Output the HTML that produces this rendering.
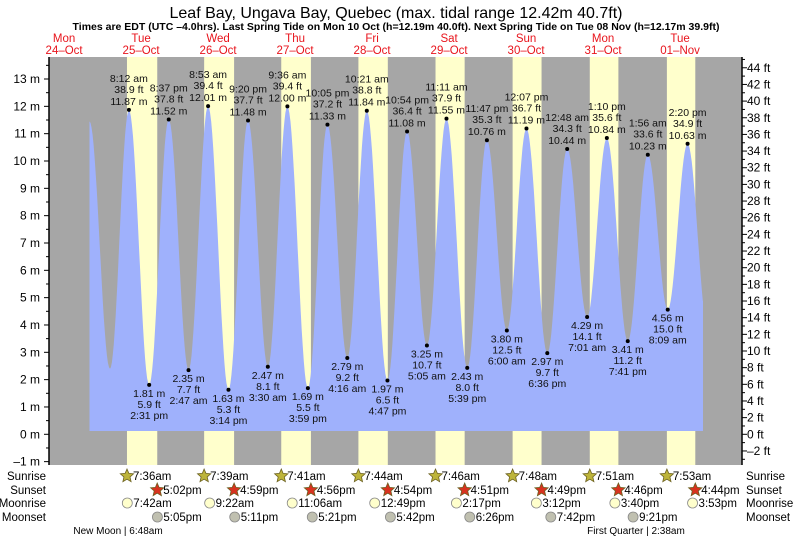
<!DOCTYPE html>
<html><head><meta charset="utf-8"><style>
body{margin:0;background:#fff;}
svg{display:block;font-family:"Liberation Sans",sans-serif;}
</style></head><body>
<svg id="chart" width="793" height="539" viewBox="0 0 793 539"></svg>
<script>
// ---- data ----
const tideTimes = ["24-19:55","25-02:18","25-08:12","25-14:31","25-20:37","26-02:47","26-08:53","26-15:14","26-21:20","27-03:30","27-09:36","27-15:59","27-22:05","28-04:16","28-10:21","28-16:47","28-22:54","29-05:05","29-11:11","29-17:39","29-23:47","30-06:00","30-12:07","30-18:36","31-00:48","31-07:01","31-13:10","31-19:41","32-01:56","32-08:09","32-14:20","32-20:40"];
const tideHeights = [11.45,2.40,11.87,1.81,11.52,2.35,12.01,1.63,11.48,2.47,12.00,1.69,11.33,2.79,11.84,1.97,11.08,3.25,11.55,2.43,10.76,3.80,11.19,2.97,10.44,4.29,10.84,3.41,10.23,4.56,10.63,3.90];
const tideLabels = [null,null,"8:12 am","2:31 pm","8:37 pm","2:47 am","8:53 am","3:14 pm","9:20 pm","3:30 am","9:36 am","3:59 pm","10:05 pm","4:16 am","10:21 am","4:47 pm","10:54 pm","5:05 am","11:11 am","5:39 pm","11:47 pm","6:00 am","12:07 pm","6:36 pm","12:48 am","7:01 am","1:10 pm","7:41 pm","1:56 am","8:09 am","2:20 pm",null];
const dayNames = ["Mon","Tue","Wed","Thu","Fri","Sat","Sun","Mon","Tue"];
const dayDates = ["24–Oct","25–Oct","26–Oct","27–Oct","28–Oct","29–Oct","30–Oct","31–Oct","01–Nov"];
const sunrise = ["7:36am","7:39am","7:41am","7:44am","7:46am","7:48am","7:51am","7:53am"];
const sunset = ["5:02pm","4:59pm","4:56pm","4:54pm","4:51pm","4:49pm","4:46pm","4:44pm"];
const moonrise = ["7:42am","9:22am","11:06am","12:49pm","2:17pm","3:12pm","3:40pm","3:53pm"];
const moonset = ["5:05pm","5:11pm","5:21pm","5:42pm","6:26pm","7:42pm","9:21pm"];
const mTicks = [-1,0,1,2,3,4,5,6,7,8,9,10,11,12,13];
const ftTicks = [-2,0,2,4,6,8,10,12,14,16,18,20,22,24,26,28,30,32,34,36,38,40,42,44];

// ---- scales ----
const X0=25.6, PXH=77/24, L=49, R=742, T=57, B=465;
const Y0=434.3, PXM=27.33;
const xh = h => X0 + h*PXH;
const ym = m => Y0 - m*PXM;
function parseT(s){const [d,hm]=s.split("-");const [h,mi]=hm.split(":").map(Number);return (Number(d)-24)*24+h+mi/60;}
function parseClock(s,day){const m=s.match(/(\d+):(\d+)\s*(am|pm)/);let h=Number(m[1])%12;if(m[3]==="pm")h+=12;return day*24+h+Number(m[2])/60;}
const NS="http://www.w3.org/2000/svg";
const svg=document.getElementById("chart");
function el(tag,attrs,parent){const e=document.createElementNS(NS,tag);for(const k in attrs)e.setAttribute(k,attrs[k]);(parent||svg).appendChild(e);return e;}
function txt(x,y,s,attrs,parent){const e=el("text",Object.assign({x:x,y:y},attrs||{}),parent);e.textContent=s;return e;}

// background
const bg=el("rect",{x:L,y:T,width:R-L,height:B-T,fill:"#a6a6a6"});


for(let d=1;d<=8;d++){
  const sr=parseClock(sunrise[d-1],d), ss=parseClock(sunset[d-1],d);
  const r=el("rect",{x:xh(sr),y:T,width:xh(ss)-xh(sr),height:B-T,fill:"#ffffcc"});
  
  
}
// tide curve
const hrs=tideTimes.map(parseT);
let pts=[];
for(let i=0;i<hrs.length-1;i++){
  for(let k=0;k<20;k++){const f=k/20;const t=hrs[i]+(hrs[i+1]-hrs[i])*f;
    const v=tideHeights[i]+(tideHeights[i+1]-tideHeights[i])*(1-Math.cos(Math.PI*f))/2;
    if(xh(t)<=703)pts.push([xh(t),ym(v)]);}
}
const endX=703;
let d="M"+pts[0][0].toFixed(1)+","+ym(0.12).toFixed(1);
pts.forEach(p=>d+="L"+p[0].toFixed(1)+","+p[1].toFixed(1));
d+="L"+endX+","+pts[pts.length-1][1].toFixed(1)+"L"+endX+","+ym(0.12).toFixed(1)+"Z";
const area=el("path",{d:d,fill:"#9fb1fc"});


// points & labels
const fs={"font-size":"10.5","text-anchor":"middle",fill:"#111"};
for(let i=0;i<hrs.length;i++){
  if(!tideLabels[i])continue;
  const x=xh(hrs[i]),y=ym(tideHeights[i]);
  const dot=el("circle",{cx:x,cy:y,r:2,fill:"#000"});
  
  
  const ft=(tideHeights[i]/0.3048).toFixed(1)+" ft", m=tideHeights[i].toFixed(2)+" m";
  const high=tideHeights[i]>6;
  const g=el("g",{});
  
  
  if(high){txt(x,y-28,tideLabels[i],fs,g);txt(x,y-17,ft,fs,g);txt(x,y-5,m,fs,g);}
  else{txt(x,y+12,m,fs,g);txt(x,y+23,ft,fs,g);txt(x,y+34,tideLabels[i],fs,g);}
}
// axes
const axl=el("line",{x1:L,y1:T,x2:L,y2:B,stroke:"#000","stroke-width":1.5});


const axr=el("line",{x1:R,y1:T,x2:R,y2:B,stroke:"#000","stroke-width":1.5});


for(let v=-1;v<=13.5;v+=0.5){const y=ym(v);if(y<T)continue;el("line",{x1:L-(v%1===0?5:3),y1:y,x2:L,y2:y,stroke:"#000"});}
mTicks.forEach(v=>{const t=txt(L-9,ym(v)+4,v<0?"–1 m":v+" m",{"font-size":"12","text-anchor":"end",fill:"#000"});
  
  });
for(let f=-3;f<=45;f++){const y=ym(f*0.3048);if(y<T||y>B)continue;el("line",{x1:R,y1:y,x2:R+(f%2===0?5:3),y2:y,stroke:"#000"});}
ftTicks.forEach(f=>{const t=txt(R+5,ym(f*0.3048)+4,(f<0?"–"+(-f):f)+" ft",{"font-size":"12",fill:"#000"});
  
  });
// titles
const tt=txt(396,18,"Leaf Bay, Ungava Bay, Quebec (max. tidal range 12.42m 40.7ft)",{"font-size":"16","text-anchor":"middle",fill:"#000"});


const st=txt(396,30,"Times are EDT (UTC –4.0hrs). Last Spring Tide on Mon 10 Oct (h=12.19m 40.0ft). Next Spring Tide on Tue 08 Nov (h=12.17m 39.9ft)",{"font-size":"10.5","font-weight":"bold","text-anchor":"middle",fill:"#000"});


dayNames.forEach((n,i)=>{const x=xh(i*24+12);
  const a=txt(x,42,n,{"font-size":"11.5","text-anchor":"middle",fill:"#e8141c"});
  
  
  const b=txt(x,54,dayDates[i],{"font-size":"11.5","text-anchor":"middle",fill:"#e8141c"});
  
  });
// bottom rows
const rows=[["Sunrise",480],["Sunset",494],["Moonrise",507],["Moonset",521]];
rows.forEach(r=>{
  const a=txt(46,r[1],r[0],{"font-size":"11.5","text-anchor":"end",fill:"#000"});
  
  
  const b=txt(746,r[1],r[0],{"font-size":"11.5",fill:"#000"});
  
  });
function star(cx,cy,fill){let p="";for(let k=0;k<10;k++){const a=-Math.PI/2+k*Math.PI/5,rr=k%2?3.2:7;p+=(cx+rr*Math.cos(a)).toFixed(1)+","+(cy+rr*Math.sin(a)).toFixed(1)+" ";}
  return el("polygon",{points:p,fill:fill,stroke:"#6b6020","stroke-width":0.8});}
function evRow(list,y,startDay,kind){list.forEach((s,i)=>{const x=xh(parseClock(s,startDay+i));
  let ic;
  if(kind==="sr")ic=star(x,y-4,"#bdb43a");
  else if(kind==="ss")ic=star(x,y-4,"#d8321f");
  else ic=el("circle",{cx:x,cy:y-4,r:5,fill:kind==="mr"?"#ffffcc":"#c0c0b0",stroke:"#888","stroke-width":0.8});
  
  
  const t=txt(x+6,y,s,{"font-size":"11.5",fill:"#000"});
  
  });}
evRow(sunrise,480,1,"sr");evRow(sunset,494,1,"ss");evRow(moonrise,507,1,"mr");evRow(moonset,521,1,"ms");
const p1=txt(118,534,"New Moon | 6:48am",{"font-size":"10","text-anchor":"middle",fill:"#000"});


const p2=txt(636,534,"First Quarter | 2:38am",{"font-size":"10","text-anchor":"middle",fill:"#000"});


</script>
</body></html>
